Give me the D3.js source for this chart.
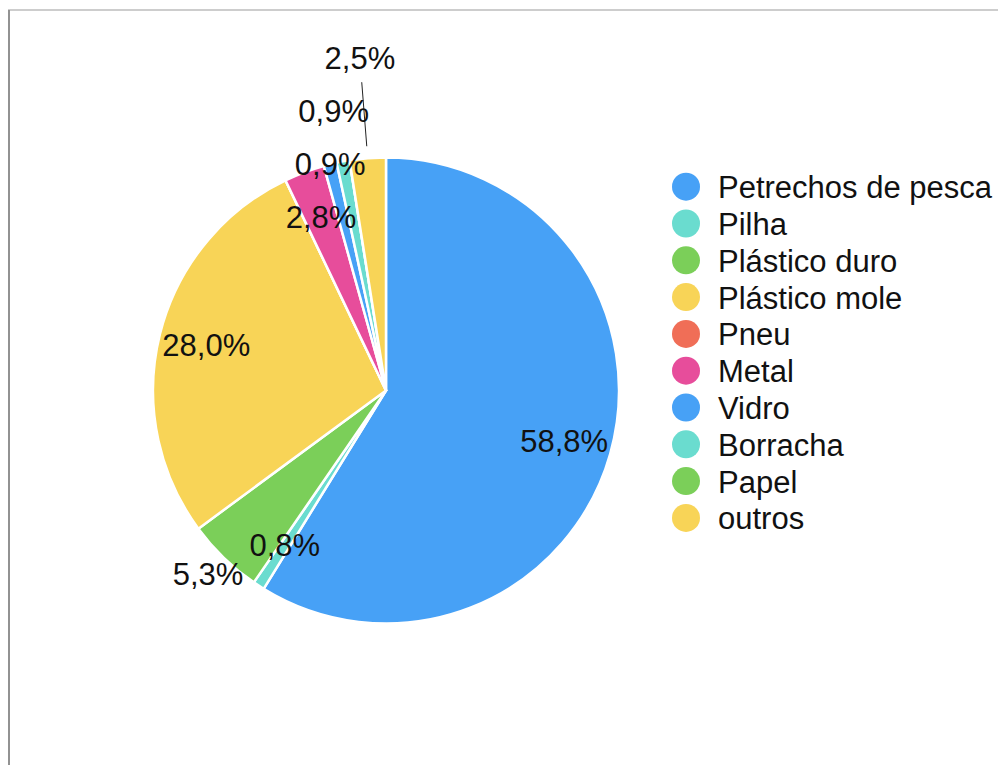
<!DOCTYPE html>
<html>
<head>
<meta charset="utf-8">
<script src="https://cdn.jsdelivr.net/npm/d3@7"></script>
<style>
  html, body { margin: 0; padding: 0; background: #fff; }
  svg { display: block; }
  text { font-family: "Liberation Sans", Arial, Helvetica, sans-serif; fill: #111; }
</style>
</head>
<body>
<svg id="chart" width="998" height="765"></svg>
<script>
// Categories of collected litter and their share (%)
const categories = ["Petrechos de pesca", "Pilha", "Plástico duro", "Plástico mole", "Pneu",
                    "Metal", "Vidro", "Borracha", "Papel", "outros"];
const values = [58.8, 0.8, 5.3, 28.0, 0, 2.8, 0.9, 0.9, 0, 2.5];
const colors = ["#47a1f6", "#6adccf", "#7bcf59", "#f8d457", "#f06e57",
                "#e74d9b", "#47a1f6", "#6adccf", "#7bcf59", "#f8d457"];

const W = 998, H = 765;
const cx = 386, cy = 390.5, R = 233;
const fontSize = 31;

const svg = d3.select("#chart");

// frame lines
svg.append("line").attr("x1", 8).attr("x2", W).attr("y1", 10).attr("y2", 10)
  .attr("stroke", "#bdbdbd").attr("stroke-width", 1.5);
svg.append("line").attr("x1", 9).attr("x2", 9).attr("y1", 10).attr("y2", H)
  .attr("stroke", "#929292").attr("stroke-width", 2);

const data = categories.map((c, i) => ({ name: c, value: values[i], color: colors[i] }));

const pie = d3.pie().sort(null).value(d => d.value).startAngle(0).endAngle(2 * Math.PI);
const arcs = pie(data);
const arc = d3.arc().innerRadius(0).outerRadius(R);

const g = svg.append("g").attr("transform", `translate(${cx},${cy})`);

g.selectAll("path.slice")
  .data(arcs)
  .join("path")
  .attr("class", "slice")
  .attr("d", arc)
  .attr("fill", d => d.data.color)
  .attr("stroke", "#fff")
  .attr("stroke-width", 2.5)
  .attr("stroke-linejoin", "round");

// percentage labels with simple outward collision avoidance
const fmt = v => d3.format(".1f")(v).replace(".", ",") + "%";
const labelR = R * 0.795;
const vGap = 52.5;
const placed = [];
const labelLayer = g.append("g");
const lineLayer = g.insert("g", () => labelLayer.node());

arcs.filter(d => d.data.value > 0).forEach(d => {
  const a = (d.startAngle + d.endAngle) / 2;
  const ux = Math.sin(a), uy = -Math.cos(a);
  const t = labelLayer.append("text")
    .attr("text-anchor", "middle")
    .attr("dy", "0.35em")
    .style("font-size", fontSize + "px")
    .text(fmt(d.data.value));
  const w = t.node().getComputedTextLength();
  let r = labelR, x, y;
  for (;;) {
    x = ux * r; y = uy * r;
    const hit = placed.some(p =>
      Math.abs(p.x - x) < (p.w + w) / 2 + 6 && Math.abs(p.y - y) < vGap);
    if (!hit) break;
    r += 0.5;
  }
  placed.push({ x, y, w });
  t.attr("x", x).attr("y", y);
  if (r > R + 70) {
    lineLayer.append("line")
      .attr("x1", ux * (R + 12)).attr("y1", uy * (R + 12))
      .attr("x2", ux * (r - 24)).attr("y2", uy * (r - 24))
      .attr("stroke", "#222").attr("stroke-width", 1);
  }
});

// legend
const lg = svg.append("g").attr("transform", "translate(686,186.7)");
const rowH = 36.8;
const items = lg.selectAll("g.item").data(data).join("g")
  .attr("class", "item")
  .attr("transform", (d, i) => `translate(0,${i * rowH})`);
items.append("circle").attr("r", 14).attr("fill", d => d.color);
items.append("text")
  .attr("x", 32).attr("dy", "0.37em")
  .style("font-size", fontSize + "px")
  .text(d => d.name);
</script>
</body>
</html>
